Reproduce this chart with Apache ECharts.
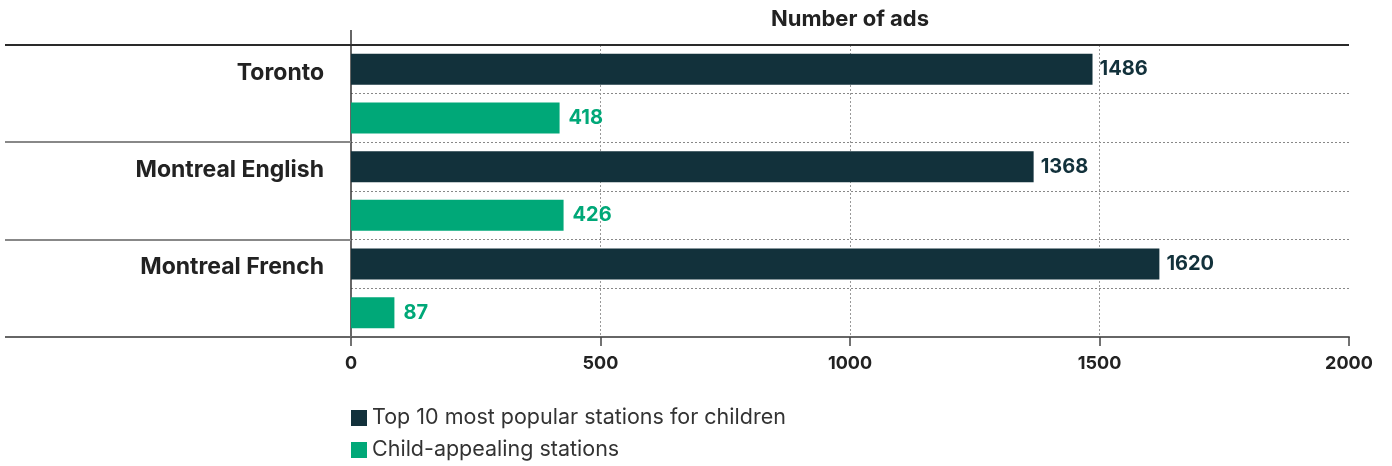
<!DOCTYPE html>
<html>
<head>
<meta charset="utf-8">
<script src="https://cdn.jsdelivr.net/npm/echarts@6/dist/echarts.min.js"></script>
<style>
  html, body { margin: 0; padding: 0; background: #fff; }
  #chart { width: 1392px; height: 466px; }
</style>
</head>
<body>
<div id="chart"></div>
<script>
  // data
  const cities = ['Toronto', 'Montreal English', 'Montreal French'];
  const topStations = [1486, 1368, 1620];
  const childStations = [418, 426, 87];
  const seriesNames = ['Top 10 most popular stations for children', 'Child-appealing stations'];
  // second axis: one row per bar, labels only on the first row of each city
  const rows = ['Toronto', '', 'Montreal English', '', 'Montreal French', ''];

  const DARK = '#12313b';
  const GREEN = '#00a878';
  const FONT = 'Inter';

  // grid box (px)
  const W = 1392, H = 466;
  const gLeft = 351, gRight = 43, gTop = 45, gBottom = 129;
  const gRightX = W - gRight;
  const gBottomY = H - gBottom;
  const band = (gBottomY - gTop) / cities.length;

  // lines that run into the label area
  const deco = [];
  deco.push({ type: 'line', shape: { x1: 5, y1: gTop, x2: gRightX, y2: gTop }, style: { stroke: '#2a2a2a', lineWidth: 2 }, z: 10 });
  deco.push({ type: 'line', shape: { x1: gLeft, y1: 30, x2: gLeft, y2: gTop }, style: { stroke: '#333', lineWidth: 1.5 }, z: 10 });
  for (let i = 1; i < cities.length; i++) {
    const y = Math.round(gTop + band * i);
    deco.push({ type: 'line', shape: { x1: 5, y1: y, x2: gLeft, y2: y }, style: { stroke: '#888', lineWidth: 2 }, z: 10 });
  }
  deco.push({ type: 'line', shape: { x1: 5, y1: gBottomY, x2: gLeft, y2: gBottomY }, style: { stroke: '#666', lineWidth: 2 }, z: 10 });

  const legendText = { fontFamily: FONT, fontSize: 21.5, color: '#333' };

  const chart = echarts.init(document.getElementById('chart'));
  const option = {
    animation: false,
    textStyle: { fontFamily: FONT },
    grid: { left: gLeft, right: gRight, top: gTop, bottom: gBottom, containLabel: false, outerBoundsMode: 'none' },
    graphic: deco,
    legend: [{
      left: gLeft - 5, top: 402, itemWidth: 16, itemHeight: 16, icon: 'rect',
      textStyle: legendText, data: [seriesNames[0]]
    }, {
      left: gLeft - 5, top: 434, itemWidth: 16, itemHeight: 16, icon: 'rect',
      textStyle: legendText, data: [seriesNames[1]]
    }],
    xAxis: [{
      type: 'value',
      min: 0,
      max: 2000,
      interval: 500,
      axisLine: { show: true, lineStyle: { color: '#666', width: 2 } },
      axisTick: { show: true, length: 9, lineStyle: { color: '#444', width: 1.5 } },
      axisLabel: { margin: 18, fontFamily: FONT, fontSize: 18, fontWeight: 'bold', color: '#222', formatter: v => String(v) },
      splitLine: { show: true, showMinLine: false, showMaxLine: false, lineStyle: { color: '#999', type: [2, 2], width: 1 } }
    }, {
      type: 'value',
      position: 'top',
      min: 0,
      max: 2000,
      name: 'Number of ads',
      nameLocation: 'middle',
      nameGap: 15,
      nameTextStyle: { fontFamily: FONT, fontSize: 22, fontWeight: 'bold', color: '#222' },
      axisLine: { show: false },
      axisTick: { show: false },
      axisLabel: { show: false },
      splitLine: { show: false }
    }],
    yAxis: [{
      type: 'category',
      inverse: true,
      data: cities,
      axisLine: { show: true, onZero: false, lineStyle: { color: '#333', width: 1.5 } },
      axisTick: { show: false },
      axisLabel: { show: false },
      splitLine: { show: false }
    }, {
      type: 'category',
      inverse: true,
      position: 'left',
      data: rows,
      axisLine: { show: false },
      axisTick: { show: false },
      // labels sit a little below the bar centre
      axisLabel: { margin: 27, verticalAlign: 'top', lineHeight: 7, fontFamily: FONT, fontSize: 23, fontWeight: 'bold', color: '#222' },
      splitLine: { show: true, showMinLine: false, showMaxLine: false, lineStyle: { color: '#888', type: [2, 2], width: 1 } }
    }],
    series: [{
      name: seriesNames[0],
      type: 'bar',
      yAxisIndex: 0,
      data: topStations,
      barWidth: 31,
      barGap: '57%',
      itemStyle: { color: DARK },
      label: { show: true, position: 'right', distance: 7, fontFamily: FONT, fontSize: 20, fontWeight: 'bold', color: DARK }
    }, {
      name: seriesNames[1],
      type: 'bar',
      yAxisIndex: 0,
      data: childStations,
      barWidth: 31,
      barGap: '57%',
      itemStyle: { color: GREEN },
      label: { show: true, position: 'right', distance: 9, fontFamily: FONT, fontSize: 20, fontWeight: 'bold', color: GREEN }
    }]
  };
  chart.setOption(option);
</script>
</body>
</html>
